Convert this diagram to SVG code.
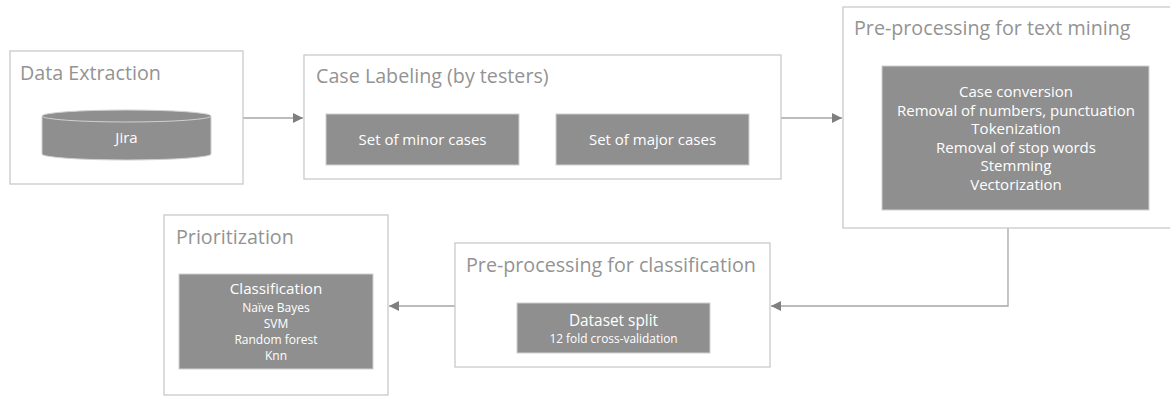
<svg xmlns="http://www.w3.org/2000/svg" width="1170" height="397" viewBox="0 0 1170 397">
<style>
.frame{fill:#fff;stroke:#c9c9c9;stroke-width:1.3}
.dark{fill:#8f8f8f;stroke:#d0d0d0;stroke-width:1}
.title{font-family:"Open Sans","Liberation Sans",sans-serif;font-size:19.7px;fill:#939393}
.in{font-family:"Open Sans","Liberation Sans",sans-serif;fill:#fff;text-anchor:middle}
.conn{fill:none;stroke:#a6a6a6;stroke-width:1.3}
</style>
<defs>
<marker id="ah" viewBox="0 0 10 10" refX="10" refY="5" markerWidth="10" markerHeight="10" markerUnits="userSpaceOnUse" orient="auto">
<path d="M0,0 L10,5 L0,10 z" fill="#7f7f7f"/>
</marker>
</defs>
<rect width="1170" height="397" fill="#fff"/>
<g id="connectors">
<path class="conn" d="M243,118 H303" marker-end="url(#ah)"/>
<path class="conn" d="M781,118 H842" marker-end="url(#ah)"/>
<path class="conn" d="M1008,228 V306 H771" marker-end="url(#ah)"/>
<path class="conn" d="M455,306 H389" marker-end="url(#ah)"/>
</g>
<g id="data-extraction">
<rect class="frame" x="10" y="51" width="233" height="133"/>
<text class="title" x="20" y="80">Data Extraction</text>
<g id="jira">
<path d="M42,116 V154 A84.5,6 0 0 0 211,154 V116 A84.5,6 0 0 0 42,116 z" fill="#8f8f8f" stroke="#d0d0d0"/>
<path d="M42,116 A84.5,6 0 0 0 211,116" fill="none" stroke="#d0d0d0"/>
<text class="in" x="126.5" y="143" font-size="15">Jira</text>
</g>
</g>
<g id="case-labeling">
<rect class="frame" x="304" y="55" width="477" height="124"/>
<text class="title" x="316" y="83">Case Labeling (by testers)</text>
<g id="minor">
<rect class="dark" x="326" y="114" width="193" height="51"/>
<text class="in" x="422.5" y="145" font-size="15">Set of minor cases</text>
</g>
<g id="major">
<rect class="dark" x="556" y="114" width="193" height="51"/>
<text class="in" x="652.5" y="145" font-size="15">Set of major cases</text>
</g>
</g>
<g id="text-mining">
<rect class="frame" x="843" y="7" width="340" height="221"/>
<text class="title" x="854" y="35">Pre-processing for text mining</text>
<rect class="dark" x="882" y="66" width="267" height="144"/>
<g class="in" font-size="15">
<text x="1016" y="97">Case conversion</text>
<text x="1016" y="115.5">Removal of numbers, punctuation</text>
<text x="1016" y="134">Tokenization</text>
<text x="1016" y="152.5">Removal of stop words</text>
<text x="1016" y="171">Stemming</text>
<text x="1016" y="189.5">Vectorization</text>
</g>
</g>
<g id="pre-classification">
<rect class="frame" x="455" y="243" width="315" height="124"/>
<text class="title" x="466" y="272">Pre-processing for classification</text>
<g id="dataset-split">
<rect class="dark" x="517" y="303" width="193" height="50"/>
<text class="in" x="613.5" y="326" font-size="15.4">Dataset split</text>
<text class="in" x="613.5" y="343" font-size="11.9">12 fold cross-validation</text>
</g>
</g>
<g id="prioritization">
<rect class="frame" x="164" y="215" width="224" height="180"/>
<text class="title" x="176" y="244">Prioritization</text>
<g id="classification">
<rect class="dark" x="179" y="274" width="194" height="95"/>
<text class="in" x="276" y="294" font-size="15.2">Classification</text>
<text class="in" x="276" y="312" font-size="12">Naïve Bayes</text>
<text class="in" x="276" y="328" font-size="12">SVM</text>
<text class="in" x="276" y="344" font-size="12">Random forest</text>
<text class="in" x="276" y="360" font-size="12">Knn</text>
</g>
</g>
</svg>
